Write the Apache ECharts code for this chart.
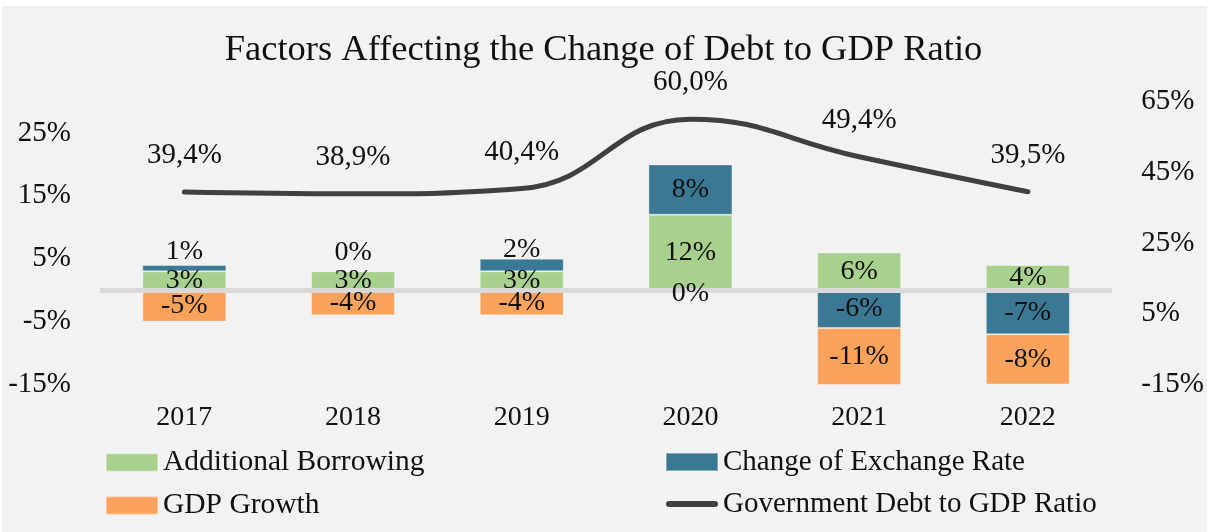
<!DOCTYPE html>
<html>
<head>
<meta charset="utf-8">
<title>Factors Affecting the Change of Debt to GDP Ratio</title>
<script src="https://cdn.jsdelivr.net/npm/echarts@6/dist/echarts.min.js"></script>
<style>
  html, body { margin: 0; padding: 0; background: #ffffff; }
  #chart { width: 1207px; height: 532px; }
</style>
</head>
<body>
<div id="chart"></div>
<script>
// Yearly contributions (percentage points) and the resulting debt ratio (%)
const years = ['2017', '2018', '2019', '2020', '2021', '2022'];
const additionalBorrowing = [3, 3, 3, 12, 6, 4];
const exchangeRateChange = [1, 0, 2, 8, -6, -7];
const gdpGrowth = [-5, -4, -4, 0, -11, -8];
const debtToGdpRatio = [39.4, 38.9, 40.4, 60.0, 49.4, 39.5];

const FONT = 'Liberation Serif';
const TEXT = '#111111';
const COLORS = {
  borrowing: '#a9d18e',
  exchange: '#3a7893',
  gdp: '#f9a25b',
  debt: '#404040',
  zero: '#d9d9d9'
};

// small exchange-rate labels are lifted clear of the borrowing labels (px)
const exchangeLabelLift = [17, 19, 15, 0, 0, 0];

const pct = p => p.value + '%';
const BAR_W = 84;

function visibleBar(name, values, color, extra) {
  return Object.assign({
    name: name,
    type: 'bar',
    stack: 'parts',
    barWidth: BAR_W,
    barGap: '-100%',
    clip: true,
    z: 2,
    itemStyle: { color: color, borderColor: 'rgba(255,255,255,0.35)', borderWidth: 1 },
    label: { show: false },
    data: values
  }, extra || {});
}

// transparent twins drawn above the zero line; they carry the value labels
function labelBar(name, values, dataBuilder) {
  return {
    name: name + ' ',
    type: 'bar',
    stack: 'labels',
    barWidth: BAR_W,
    barGap: '-100%',
    clip: true,
    z: 8,
    silent: true,
    itemStyle: { color: 'rgba(0,0,0,0)' },
    label: {
      show: true,
      position: 'inside',
      formatter: pct,
      fontFamily: FONT,
      fontSize: 28,
      color: TEXT
    },
    data: dataBuilder ? values.map(dataBuilder) : values
  };
}

const chart = echarts.init(document.getElementById('chart'), null, { renderer: 'canvas' });

function buildSeries(gdpLabelDrop) {
  return [
    visibleBar('Additional Borrowing', additionalBorrowing, COLORS.borrowing),
    visibleBar('Change of Exchange Rate', exchangeRateChange, COLORS.exchange),
    visibleBar('GDP Growth', gdpGrowth, COLORS.gdp, {
      markLine: {
        silent: true,
        z: 5,
        symbol: ['none', 'none'],
        label: { show: false },
        lineStyle: { color: COLORS.zero, width: 5, type: 'solid' },
        data: [{ yAxis: 0 }]
      }
    }),
    labelBar('Additional Borrowing', additionalBorrowing),
    labelBar('Change of Exchange Rate', exchangeRateChange, (v, i) => ({
      value: v,
      label: { offset: [0, -exchangeLabelLift[i]] }
    })),
    labelBar('GDP Growth', gdpGrowth, (v, i) => ({
      value: v,
      label: { offset: [0, gdpLabelDrop[i]] }
    })),
    {
      name: 'Government Debt to GDP Ratio',
      type: 'line',
      yAxisIndex: 1,
      smooth: 0.45,
      showSymbol: true,
      symbol: 'circle',
      symbolSize: 0.1,
      z: 6,
      lineStyle: { color: COLORS.debt, width: 5, cap: 'round', join: 'round' },
      itemStyle: { color: COLORS.debt },
      label: {
        show: true,
        position: 'top',
        distance: 22,
        fontFamily: FONT,
        fontSize: 29,
        color: TEXT,
        formatter: p => p.value.toFixed(1).replace('.', ',') + '%'
      },
      data: debtToGdpRatio
    }
  ];
}

chart.setOption({
  animation: false,
  textStyle: { fontFamily: FONT, color: TEXT },
  graphic: [{
    type: 'rect',
    silent: true,
    z: -10,
    shape: { x: 2, y: 6, width: 1205, height: 526 },
    style: { fill: '#f2f2f2' }
  }],
  title: {
    text: 'Factors Affecting the Change of Debt to GDP Ratio',
    left: 'center',
    top: 27,
    padding: [5, 0, 5, 10],
    textStyle: { fontFamily: FONT, fontSize: 36.5, fontWeight: 'normal', color: TEXT }
  },
  legend: [{
    orient: 'vertical',
    left: 105,
    top: 447.5,
    padding: 0,
    itemGap: 13,
    itemWidth: 52,
    itemHeight: 18,
    textStyle: { fontFamily: FONT, fontSize: 29.5, color: TEXT },
    data: [
      { name: 'Additional Borrowing', icon: 'rect' },
      { name: 'GDP Growth', icon: 'rect' }
    ]
  }, {
    orient: 'vertical',
    left: 665,
    top: 447.5,
    padding: 0,
    itemGap: 13,
    itemWidth: 52,
    itemHeight: 18,
    textStyle: { fontFamily: FONT, fontSize: 29, color: TEXT },
    data: [
      { name: 'Change of Exchange Rate', icon: 'rect' },
      {
        name: 'Government Debt to GDP Ratio',
        icon: 'path://M3,0H49A3,3,0,0,1,49,6H3A3,3,0,0,1,3,0Z',
        itemStyle: { color: COLORS.debt, borderWidth: 0 },
        lineStyle: { width: 0 }
      }
    ]
  }],
  grid: { left: 100, right: 93, top: 101.5, bottom: 147.5, containLabel: false },
  xAxis: {
    type: 'category',
    data: years,
    axisLine: { show: false, onZero: false },
    axisTick: { show: false },
    splitLine: { show: false },
    axisLabel: { margin: 19.5, fontFamily: FONT, fontSize: 28, color: TEXT }
  },
  yAxis: [{
    type: 'value',
    min: -15,
    max: 30,
    interval: 10,
    axisLine: { show: false },
    axisTick: { show: false },
    splitLine: { show: false },
    axisLabel: {
      formatter: '{value}%',
      showMaxLabel: false,
      margin: 29,
      fontFamily: FONT,
      fontSize: 29,
      color: TEXT
    }
  }, {
    type: 'value',
    position: 'right',
    min: -15,
    max: 65,
    interval: 20,
    axisLine: { show: false },
    axisTick: { show: false },
    splitLine: { show: false },
    axisLabel: {
      formatter: '{value}%',
      margin: 29,
      fontFamily: FONT,
      fontSize: 29,
      color: TEXT
    }
  }],
  series: buildSeries(gdpGrowth.map(() => 0))
});

// A zero growth value sits on top of the positive stack; move its label
// back down to the zero line using the axis scale.
const yZero = chart.convertToPixel({ yAxisIndex: 0 }, 0);
const gdpLabelDrop = gdpGrowth.map((v, i) => {
  if (v !== 0) return 0;
  const above = Math.max(additionalBorrowing[i], 0) + Math.max(exchangeRateChange[i], 0);
  return yZero - chart.convertToPixel({ yAxisIndex: 0 }, above) + 3;
});
chart.setOption({ series: buildSeries(gdpLabelDrop) });
</script>
</body>
</html>
